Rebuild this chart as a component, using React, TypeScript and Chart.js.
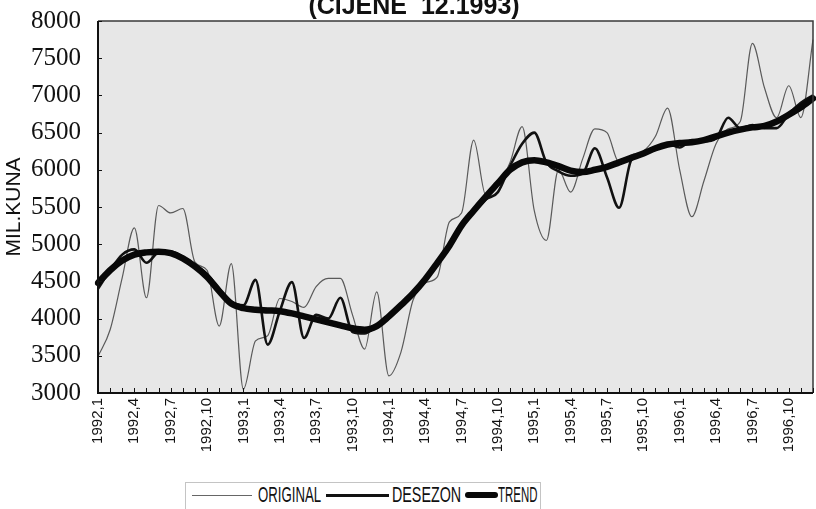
import React, { useEffect, useRef } from 'react';
import { Chart, registerables } from 'chart.js';

Chart.register(...registerables);

const MONTHS = [
  '1992,1', '1992,2', '1992,3', '1992,4', '1992,5', '1992,6', '1992,7', '1992,8', '1992,9', '1992,10', '1992,11', '1992,12',
  '1993,1', '1993,2', '1993,3', '1993,4', '1993,5', '1993,6', '1993,7', '1993,8', '1993,9', '1993,10', '1993,11', '1993,12',
  '1994,1', '1994,2', '1994,3', '1994,4', '1994,5', '1994,6', '1994,7', '1994,8', '1994,9', '1994,10', '1994,11', '1994,12',
  '1995,1', '1995,2', '1995,3', '1995,4', '1995,5', '1995,6', '1995,7', '1995,8', '1995,9', '1995,10', '1995,11', '1995,12',
  '1996,1', '1996,2', '1996,3', '1996,4', '1996,5', '1996,6', '1996,7', '1996,8', '1996,9', '1996,10', '1996,11', '1996,12',
];

const ORIGINAL = [
  3490, 3850, 4550, 5220, 4280, 5520, 5420, 5480, 4760, 4650, 3900, 4740,
  3050, 3700, 3770, 4270, 4230, 4150, 4430, 4540, 4540, 4050, 3590, 4360,
  3230, 3550, 4250, 4480, 4560, 5300, 5420, 6400, 5660, 5800, 6100, 6580,
  5450, 5050, 6000, 5700, 6150, 6550, 6500, 6100, 6200, 6250, 6450, 6830,
  6000, 5370, 5850, 6350, 6550, 6650, 7700, 7100, 6700, 7130, 6700, 7750,
];

const DESEZON = [
  4400, 4650, 4860, 4930, 4750, 4890, 4900, 4830, 4730, 4600, 4400, 4230,
  4180, 4520, 3650, 4100, 4490, 3740, 4050, 4000, 4280, 3820, 3800, 3900,
  4000, 4170, 4340, 4530, 4750, 4980, 5250, 5430, 5600, 5700, 6050, 6350,
  6500, 6100, 5980, 5920, 5950, 6290, 5900, 5490, 6130, 6220, 6300, 6350,
  6300, 6400, 6380, 6420, 6700, 6560, 6600, 6560, 6560, 6750, 6900, 7000,
];

const TREND = [
  4480, 4650, 4780, 4860, 4890, 4900, 4880, 4810, 4700, 4560, 4370, 4200,
  4140, 4120, 4110, 4100, 4070, 4030, 3990, 3950, 3910, 3870, 3850, 3900,
  4030, 4180, 4340, 4530, 4750, 4980, 5250, 5450, 5640, 5820, 6000, 6100,
  6130, 6100, 6050, 5990, 5970, 6000, 6040, 6100, 6160, 6220, 6290, 6340,
  6360, 6370, 6400, 6450, 6500, 6540, 6570, 6590, 6650, 6740, 6840, 6960,
];

const Y_MIN = 3000;
const Y_MAX = 8000;
const Y_STEP = 500;
const LABEL_EVERY = 3;

const TITLE = '(CIJENE  12.1993)';
const Y_TITLE = 'MIL.KUNA';
const SERIES_NAMES = ['ORIGINAL', 'DESEZON', 'TREND'];

const SANS = "'Liberation Sans', Arial, Helvetica, sans-serif";
const SERIF = "'Liberation Serif', 'Times New Roman', serif";

const framePlugin = {
  id: 'frame',
  beforeDraw(chart: any) {
    const { ctx, chartArea: a } = chart;
    ctx.save();
    ctx.fillStyle = '#ffffff';
    ctx.fillRect(0, 0, chart.width, chart.height);
    ctx.fillStyle = '#e7e7e7';
    ctx.fillRect(a.left, a.top, a.right - a.left, a.bottom - a.top);
    ctx.restore();
  },
  afterDatasetsDraw(chart: any) {
    const { ctx, chartArea: a, scales } = chart;
    ctx.save();
    ctx.strokeStyle = '#3a3a3a';
    ctx.lineWidth = 1.5;
    ctx.beginPath();
    ctx.moveTo(a.left, a.top);
    ctx.lineTo(a.right, a.top);
    ctx.lineTo(a.right, a.bottom);
    ctx.stroke();

    ctx.strokeStyle = '#111111';
    ctx.lineWidth = 2;
    ctx.beginPath();
    ctx.moveTo(a.left, a.top);
    ctx.lineTo(a.left, a.bottom);
    ctx.lineTo(a.right, a.bottom);
    ctx.stroke();

    ctx.lineWidth = 1;
    ctx.beginPath();
    const xs = scales.x;
    for (let i = 0; i < MONTHS.length; i++) {
      const px = Math.round(xs.getPixelForValue(i)) + 0.5;
      ctx.moveTo(px, a.bottom);
      ctx.lineTo(px, a.bottom - 5);
    }
    const ys = scales.y;
    for (let v = Y_MIN; v <= Y_MAX; v += Y_STEP) {
      const py = Math.round(ys.getPixelForValue(v)) + 0.5;
      ctx.moveTo(a.left, py);
      ctx.lineTo(a.left + 4, py);
    }
    ctx.stroke();

    // chart title (top partly cut off by the page edge, as in the source)
    ctx.fillStyle = '#111111';
    ctx.font = `bold 25px ${SANS}`;
    ctx.textAlign = 'center';
    ctx.textBaseline = 'alphabetic';
    ctx.fillText(TITLE, 414, 14);
    ctx.restore();
  },
};

export default function App() {
  const ref = useRef<HTMLCanvasElement>(null);

  useEffect(() => {
    if (!ref.current) return;
    const chart = new Chart(ref.current, {
      type: 'line',
      data: {
        labels: MONTHS,
        datasets: [
          {
            label: SERIES_NAMES[0],
            data: ORIGINAL,
            borderColor: '#5a5a5a',
            borderWidth: 1.2,
            order: 3,
          },
          {
            label: SERIES_NAMES[1],
            data: DESEZON,
            borderColor: '#111111',
            borderWidth: 2.6,
            order: 2,
          },
          {
            label: SERIES_NAMES[2],
            data: TREND,
            borderColor: '#080808',
            borderWidth: 6.5,
            borderCapStyle: 'round',
            borderJoinStyle: 'round',
            order: 1,
          },
        ],
      },
      options: {
        animation: false,
        responsive: false,
        layout: { padding: { left: 0, right: 3, top: 21, bottom: 0 } },
        elements: {
          point: { radius: 0, hoverRadius: 0 },
          line: { cubicInterpolationMode: 'monotone', fill: false },
        },
        plugins: {
          legend: { display: false },
          tooltip: { enabled: false },
          title: { display: false },
        },
        scales: {
          x: {
            type: 'category',
            offset: false,
            grid: { display: false, drawTicks: false },
            border: { display: false },
            ticks: {
              autoSkip: false,
              maxRotation: 90,
              minRotation: 90,
              padding: 5,
              color: '#111111',
              font: { family: SANS, size: 15 },
              callback: (_v: any, i: number) => (i % LABEL_EVERY === 0 ? MONTHS[i] : ''),
            },
            afterFit: (s: any) => {
              s.height = 116;
              s.paddingLeft = 0;
              s.paddingRight = 0;
            },
          },
          y: {
            min: Y_MIN,
            max: Y_MAX,
            grid: { display: false, drawTicks: false },
            border: { display: false },
            ticks: {
              stepSize: Y_STEP,
              padding: 17,
              color: '#111111',
              font: { family: SERIF, size: 25 },
              callback: (v: any) => String(v),
            },
            title: {
              display: true,
              text: Y_TITLE,
              color: '#111111',
              font: { family: SANS, size: 21, lineHeight: 1.2 },
              padding: { top: 2, bottom: 0 },
            },
            afterFit: (s: any) => {
              s.width = 98;
              s.paddingTop = 0;
              s.paddingBottom = 0;
            },
          },
        },
      },
      plugins: [framePlugin],
    } as any);
    return () => chart.destroy();
  }, []);

  const textStyle = (left: number, scale: number): React.CSSProperties => ({
    position: 'absolute',
    left,
    top: 1,
    fontFamily: SANS,
    fontSize: 22,
    lineHeight: '22px',
    color: '#111',
    whiteSpace: 'nowrap',
    transform: `scaleX(${scale})`,
    transformOrigin: 'left center',
  });

  return (
    <div style={{ position: 'fixed', left: 0, top: 0, width: 816, height: 509, overflow: 'hidden', background: '#fff' }}>
      <canvas ref={ref} width={816} height={509} style={{ display: 'block', width: 816, height: 509 }} />
      <div
        style={{
          position: 'absolute',
          left: 185,
          top: 482,
          width: 356,
          height: 40,
          border: '1px solid #c4c4c4',
          boxSizing: 'border-box',
          background: '#fff',
        }}
      >
        <div style={{ position: 'absolute', left: 6, top: 12, width: 60, height: 0, borderTop: '1px solid #666' }} />
        <span style={textStyle(72, 0.6)}>{SERIES_NAMES[0]}</span>
        <div style={{ position: 'absolute', left: 140, top: 11, width: 63, height: 3, background: '#111' }} />
        <span style={textStyle(206, 0.65)}>{SERIES_NAMES[1]}</span>
        <div style={{ position: 'absolute', left: 279, top: 9, width: 33, height: 6, borderRadius: 3, background: '#080808' }} />
        <span style={textStyle(312, 0.52)}>{SERIES_NAMES[2]}</span>
      </div>
    </div>
  );
}
